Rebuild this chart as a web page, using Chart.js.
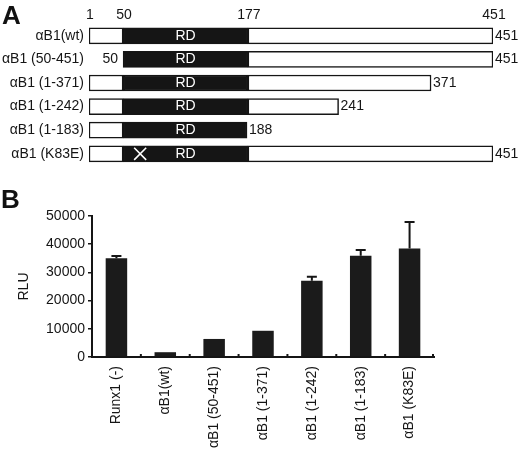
<!DOCTYPE html>
<html>
<head>
<meta charset="utf-8">
<script src="https://cdn.jsdelivr.net/npm/chart.js@4.4.1/dist/chart.umd.min.js"></script>
<style>
  body { margin: 0; background: #fff; }
  #wrap { position: relative; width: 520px; height: 451px; overflow: hidden; }
  canvas { position: absolute; left: 0; }
  .panel { position: absolute; font: bold 26px 'Liberation Sans', Arial, sans-serif; line-height: 26px; color: #111; z-index: 2; }
</style>
</head>
<body>
<div id="wrap">
  <div class="panel" style="left:2px; top:2px;">A</div>
  <div class="panel" style="left:1px; top:186px;">B</div>
  <canvas id="mapCanvas" width="520" height="179" style="top:0"></canvas>
  <canvas id="rluCanvas" width="520" height="276" style="top:175px"></canvas>
</div>
<script>
// ---- panel A : construct map ----
var constructs = ['αB1(wt)', 'αB1 (50-451)', 'αB1 (1-371)', 'αB1 (1-242)', 'αB1 (1-183)', 'αB1 (K83E)'];
// drawn extents on the schematic (not to scale), in residue-like units
var mapStart = [1, 39, 1, 1, 1, 1];
var mapEnd = [451, 451, 382, 279, 177, 451];
var rdFrom = 39, rdTo = 178;
var startLabels = ['', '50', '', '', '', ''];
var endLabels = ['451', '451', '371', '241', '188', '451'];
var rulerPos = [1, 39, 178, 451];
var rulerLabels = ['1', '50', '177', '451'];
var mutationPos = 58;   // K83E mark

// ---- panel B : luciferase ----
var samples = ['Runx1 (-)', 'αB1(wt)', 'αB1 (50-451)', 'αB1 (1-371)', 'αB1 (1-242)', 'αB1 (1-183)', 'αB1 (K83E)'];
var rlu = [35000, 1700, 6400, 9300, 27000, 35900, 38500];
var rluErr = [800, 0, 0, 0, 1500, 2000, 9400];
var rluTicks = [0, 10000, 20000, 30000, 40000, 50000];

var ink = '#151515';
Chart.defaults.font.family = "'Liberation Sans', Arial, Helvetica, sans-serif";
Chart.defaults.font.size = 14;
Chart.defaults.color = ink;

var nTerm = [], rd = [], cTerm = [];
for (var i = 0; i < constructs.length; i++) {
  nTerm.push(mapStart[i] < rdFrom ? [mapStart[i], rdFrom] : null);
  rd.push([Math.max(mapStart[i], rdFrom), Math.min(mapEnd[i], rdTo)]);
  cTerm.push(mapEnd[i] > rdTo ? [rdTo, mapEnd[i]] : null);
}

var mapText = {
  id: 'mapText',
  afterDatasetsDraw: function(chart) {
    var ctx = chart.ctx, x = chart.scales.x, y = chart.scales.y;
    ctx.save();
    ctx.font = "14px 'Liberation Sans', Arial, sans-serif";
    ctx.textBaseline = 'middle';
    ctx.fillStyle = ink;
    ctx.textAlign = 'center';
    for (var k = 0; k < rulerPos.length; k++) {
      ctx.fillText(rulerLabels[k], x.getPixelForValue(rulerPos[k]) + 1, 15);
    }
    for (var i = 0; i < constructs.length; i++) {
      var cy = y.getPixelForValue(i);
      ctx.fillStyle = ink;
      ctx.textAlign = 'left';
      ctx.fillText(endLabels[i], x.getPixelForValue(mapEnd[i]) + 2, cy);
      if (startLabels[i]) {
        ctx.textAlign = 'right';
        ctx.fillText(startLabels[i], x.getPixelForValue(mapStart[i]) - 5, cy);
      }
      ctx.fillStyle = '#fff';
      ctx.textAlign = 'center';
      ctx.fillText('RD', x.getPixelForValue((rdFrom + rdTo) / 2), cy);
    }
    ctx.restore();
  }
};

new Chart(document.getElementById('mapCanvas').getContext('2d'), {
  type: 'bar',
  data: {
    labels: constructs,
    datasets: [
      { data: nTerm, backgroundColor: '#fff', borderColor: ink, borderWidth: 1.5, borderSkipped: false, barThickness: 16, grouped: false },
      { data: rd, backgroundColor: ink, borderColor: ink, borderWidth: 1.5, borderSkipped: false, barThickness: 16, grouped: false },
      { data: cTerm, backgroundColor: '#fff', borderColor: ink, borderWidth: 1.5, borderSkipped: false, barThickness: 16, grouped: false },
      { type: 'scatter', order: -1, data: [{ x: mutationPos, y: constructs[5] }], pointStyle: 'crossRot', radius: 8.5, borderColor: '#fff', borderWidth: 1.6, backgroundColor: '#fff' }
    ]
  },
  options: {
    indexAxis: 'y',
    responsive: false,
    animation: false,
    layout: { padding: { top: 24, bottom: 1, right: 27, left: 0 } },
    plugins: { legend: { display: false }, tooltip: { enabled: false } },
    scales: {
      x: { type: 'linear', display: false, min: 1, max: 451 },
      y: {
        type: 'category',
        offset: true,
        grid: { display: false, drawTicks: false },
        border: { display: false },
        ticks: { padding: 5, color: ink },
        afterFit: function(s) { s.width = 89; }
      }
    }
  },
  plugins: [mapText]
});

var errorBars = {
  id: 'errorBars',
  afterDatasetsDraw: function(chart) {
    var ctx = chart.ctx, y = chart.scales.y, x = chart.scales.x;
    var meta = chart.getDatasetMeta(0);
    ctx.save();
    ctx.strokeStyle = ink;
    ctx.lineWidth = 2;
    for (var i = 0; i < rlu.length; i++) {
      if (!rluErr[i]) continue;
      var bx = meta.data[i].x;
      var top = y.getPixelForValue(rlu[i]);
      var cap = y.getPixelForValue(rlu[i] + rluErr[i]);
      ctx.beginPath();
      ctx.moveTo(bx, top); ctx.lineTo(bx, cap);
      ctx.moveTo(bx - 5, cap); ctx.lineTo(bx + 5, cap);
      ctx.stroke();
    }
    // small inward ticks between categories on the x axis
    var base = y.getPixelForValue(0);
    for (var k = 1; k <= samples.length; k++) {
      var tx = k < samples.length ? (x.getPixelForValue(k - 1) + x.getPixelForValue(k)) / 2 : x.right - 1;
      ctx.beginPath();
      ctx.moveTo(tx, base); ctx.lineTo(tx, base - 3);
      ctx.stroke();
    }
    ctx.restore();
  }
};

new Chart(document.getElementById('rluCanvas').getContext('2d'), {
  type: 'bar',
  data: {
    labels: samples,
    datasets: [{ data: rlu, backgroundColor: '#1b1b1b', barPercentage: 0.44, categoryPercentage: 1 }]
  },
  options: {
    responsive: false,
    animation: false,
    layout: { padding: { top: 41, right: 86, left: 0, bottom: 0 } },
    plugins: { legend: { display: false }, tooltip: { enabled: false } },
    scales: {
      x: {
        grid: { display: false, drawTicks: false },
        border: { display: true, color: ink, width: 2 },
        ticks: { minRotation: 90, maxRotation: 90, padding: 9, color: ink },
        afterFit: function(s) { s.height = 94; }
      },
      y: {
        min: 0, max: 50000,
        afterBuildTicks: function(s) { s.ticks = rluTicks.map(function(v) { return { value: v }; }); },
        grid: { drawOnChartArea: false, tickLength: 4, color: ink, lineWidth: 1.5 },
        border: { display: true, color: ink, width: 2 },
        ticks: { padding: 3, color: ink, callback: function(v) { return String(v); } },
        title: { display: true, text: 'RLU', color: ink, padding: { top: 16, bottom: 0 } },
        afterFit: function(s) { s.width = 92; }
      }
    }
  },
  plugins: [errorBars]
});
</script>
</body>
</html>
